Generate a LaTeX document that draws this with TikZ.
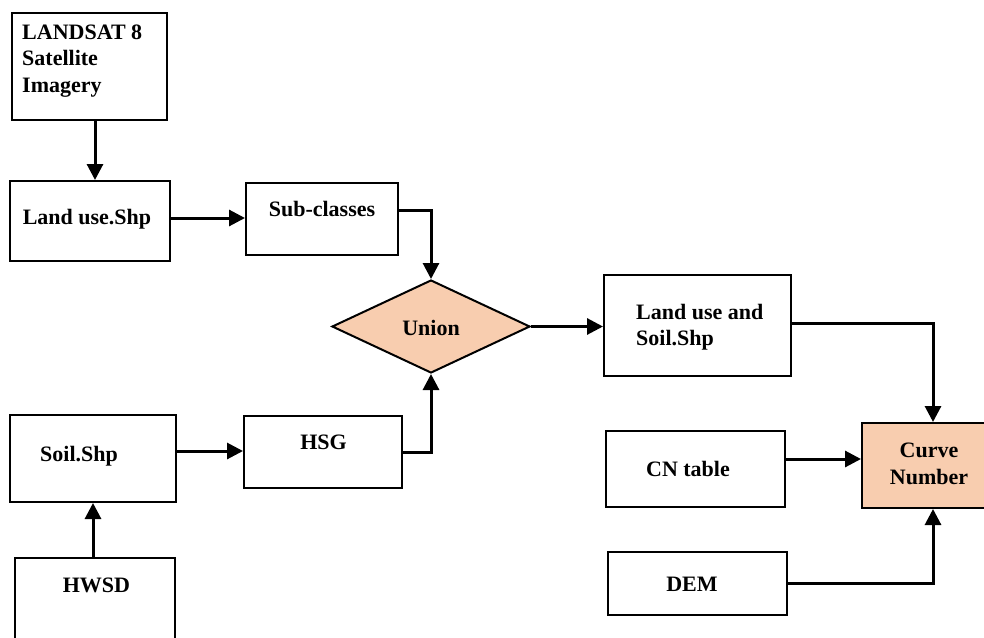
\documentclass[tikz,border=0pt]{standalone}
\usepackage{fontspec}
\setmainfont{Liberation Serif}
\usetikzlibrary{shapes.geometric,arrows.meta}
\definecolor{peach}{RGB}{248,205,175}
\tikzset{
  box/.style={draw=black, line width=2pt, rectangle, inner sep=0pt},
  diam/.style={draw=black, line width=2pt, diamond, inner sep=0pt, fill=peach},
  txt/.style={inner sep=0pt, font=\fontsize{22}{26.5}\selectfont\bfseries, align=left},
  arr/.style={line width=3pt, -{Triangle[length=16pt,width=16pt]}},
  lin/.style={line width=3pt}
}
\begin{document}
\begin{tikzpicture}[x=1pt,y=-1pt]
\useasboundingbox (0,0) rectangle (984,637);
\clip (0,0) rectangle (984,637);
% boxes
\node[box, minimum width=155pt, minimum height=107pt] (ls) at (89.5,66.5) {};
\node[box, minimum width=160pt, minimum height=80pt] (lu) at (90,221) {};
\node[box, minimum width=152pt, minimum height=72pt] (sub) at (322,219) {};
\node[diam, minimum width=198pt, minimum height=93pt] (un) at (431,326.5) {};
\node[box, minimum width=187pt, minimum height=101pt] (lus) at (697.5,325.5) {};
\node[box, minimum width=166pt, minimum height=87pt] (soil) at (93,458.5) {};
\node[box, minimum width=158pt, minimum height=72pt] (hsg) at (323,452) {};
\node[box, minimum width=160pt, minimum height=90pt] (hw) at (95,603) {};
\node[box, minimum width=179pt, minimum height=76pt] (cnt) at (695.5,469) {};
\node[box, minimum width=179pt, minimum height=63pt] (dem) at (697.5,583.5) {};
\node[box, fill=peach, minimum width=130pt, minimum height=85pt] (cn) at (927,465.5) {};
% texts
\node[txt, anchor=west] (tls) at (22,61) {LANDSAT 8\\Satellite\\Imagery};
\node[txt] (tlu) at (87,219) {Land use.Shp};
\node[txt] (tsub) at (322,209) {Sub-classes};
\node[txt] (tun) at (431,328) {Union};
\node[txt, anchor=west] (tlus) at (636,327) {Land use and\\Soil.Shp};
\node[txt] (tsoil) at (79,456) {Soil.Shp};
\node[txt] (thsg) at (323.5,442) {HSG};
\node[txt] (thw) at (96.5,585) {HWSD};
\node[txt] (tcnt) at (688,469) {CN table};
\node[txt] (tdem) at (692,584) {DEM};
\node[txt, align=center] (tcn) at (929,464) {Curve\\Number};
% connectors
\draw[arr] ([xshift=5.5pt]ls.south) -- ([xshift=5.5pt]ls.south |- lu.north);
\draw[arr] ([yshift=3pt]lu.east) -- ([yshift=3pt]lu.east -| sub.west);
\draw[arr] ([yshift=9pt]sub.east) -| (un.north);
\draw[arr] (un.east) -- (un.east -| lus.west);
\draw[arr] ([yshift=2.5pt]lus.east) -| ([xshift=6pt]cn.north);
\draw[arr] ([yshift=10pt]cnt.east) -- ([yshift=10pt]cnt.east -| cn.west);
\draw[arr] (dem.east) -| ([xshift=6pt]cn.south);
\draw[arr] ([yshift=7.5pt]soil.east) -- ([yshift=7.5pt]soil.east -| hsg.west);
\draw[arr] (hsg.east) -| (un.south);
\draw[arr] (hw.north -| soil.south) -- (soil.south);
\end{tikzpicture}
\end{document}
